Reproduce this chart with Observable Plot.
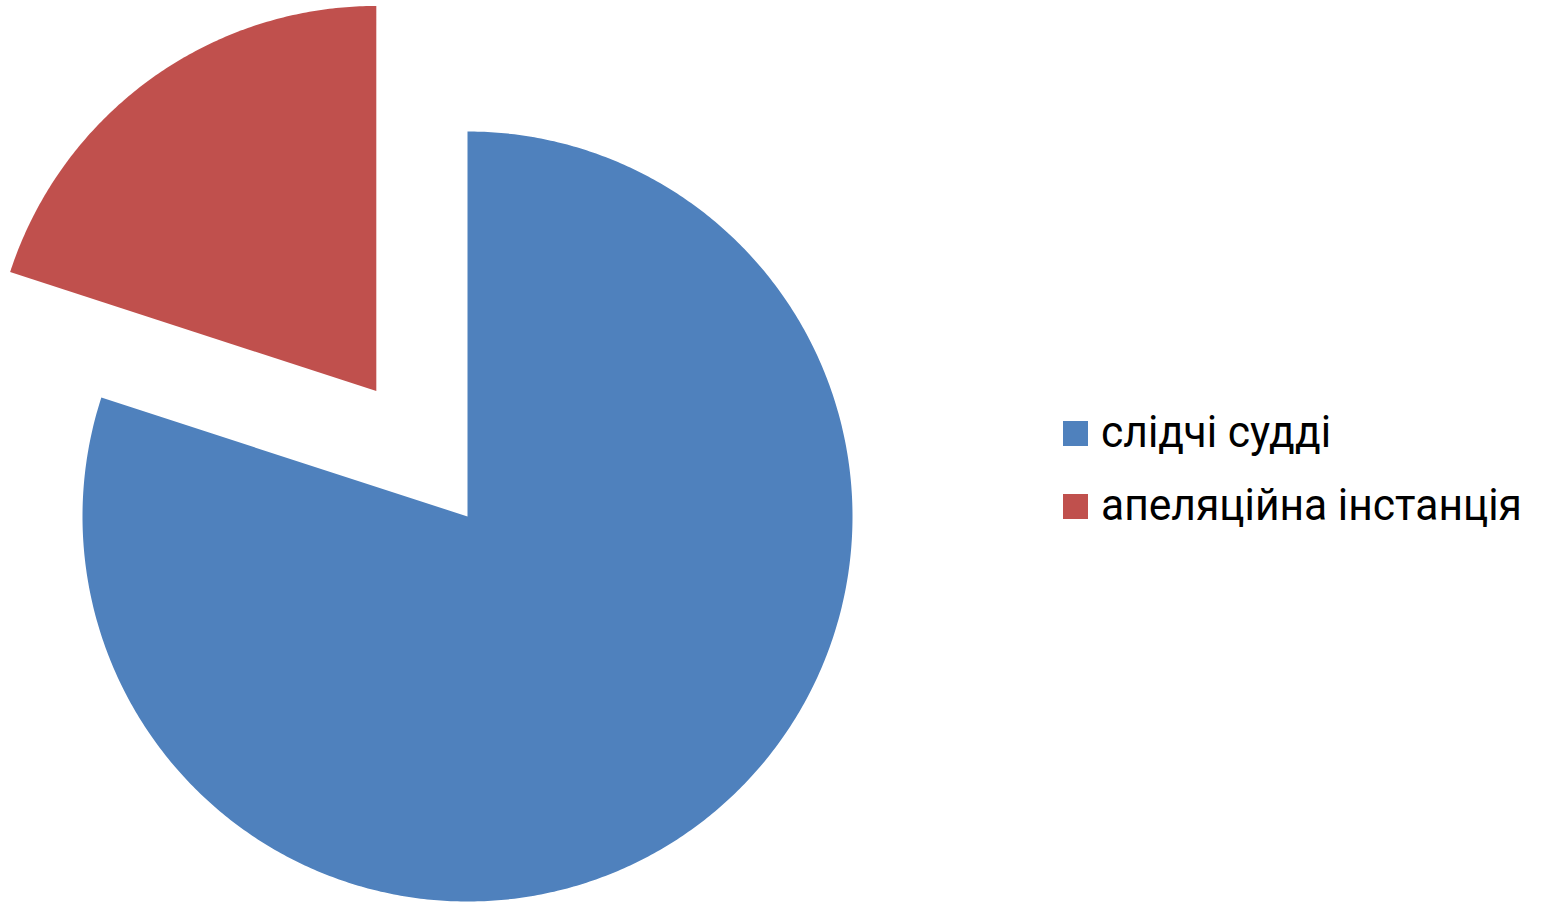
<!DOCTYPE html>
<html>
<head>
<meta charset="utf-8">
<script src="https://cdn.jsdelivr.net/npm/d3@7"></script>
<script src="https://cdn.jsdelivr.net/npm/@observablehq/plot@0.6"></script>
<style>
  html, body { margin: 0; padding: 0; background: #fff; }
  #wrap { position: relative; width: 1543px; height: 903px; overflow: hidden; }
  #wrap > svg { position: absolute; left: 0; top: 0; }
</style>
</head>
<body>
<div id="wrap"></div>
<script>
const categories = ["слідчі судді", "апеляційна інстанція"];
const values = [80, 20];
const colors = ["#4F81BD", "#C0504D"];
const exploded = [false, true];

const explodeFrac = 0.403;
const data = categories.map((name, i) => ({name, value: values[i], explode: exploded[i]}));
const arcs = d3.pie().sort(null).value(d => d.value)(data);

const pts = [];
for (const a of arcs) {
  const mid = (a.startAngle + a.endAngle) / 2;
  const ox = a.data.explode ? explodeFrac * Math.sin(mid) : 0;
  const oy = a.data.explode ? explodeFrac * Math.cos(mid) : 0;
  pts.push({name: a.data.name, x: ox, y: oy});
  const n = Math.max(2, Math.ceil((a.endAngle - a.startAngle) / (Math.PI / 360)));
  for (let k = 0; k <= n; k++) {
    const t = a.startAngle + (a.endAngle - a.startAngle) * k / n;
    pts.push({name: a.data.name, x: ox + Math.sin(t), y: oy + Math.cos(t)});
  }
}

const chart = Plot.plot({
  width: 1543,
  height: 903,
  marginLeft: 82,
  marginRight: 691,
  marginTop: 131,
  marginBottom: 2,
  x: {domain: [-1, 1], axis: null},
  y: {domain: [-1, 1], axis: null},
  color: {domain: categories, range: colors},
  style: {background: "#fff", overflow: "visible"},
  marks: [
    Plot.line(pts, {x: "x", y: "y", z: "name", fill: "name", stroke: null, curve: "linear"})
  ]
});
const wrap = document.getElementById("wrap");
wrap.appendChild(chart);

// Legend (drawn as an SVG overlay to the right of the pie)
const ns = "http://www.w3.org/2000/svg";
const leg = document.createElementNS(ns, "svg");
leg.setAttribute("width", 1543);
leg.setAttribute("height", 903);
wrap.appendChild(leg);
const legX = 1063, legY = 421, rowGap = 73, sw = 25, textX = 1101, fontSize = 44;
const texts = [];
categories.forEach((c, i) => {
  const r = document.createElementNS(ns, "rect");
  r.setAttribute("x", legX); r.setAttribute("y", legY + i * rowGap);
  r.setAttribute("width", sw); r.setAttribute("height", sw);
  r.setAttribute("fill", colors[i]);
  leg.appendChild(r);
  const t = document.createElementNS(ns, "text");
  t.setAttribute("x", textX);
  t.setAttribute("y", legY + i * rowGap + 26.5);
  t.setAttribute("font-family", "Roboto, sans-serif");
  t.setAttribute("font-size", fontSize);
  t.setAttribute("fill", "#000");
  t.textContent = c;
  leg.appendChild(t);
  texts.push(t);
});
function fit() {
  const w = texts[1].getComputedTextLength();
  const s = 421 / w;
  texts.forEach(t => {
    const x = +t.getAttribute("x");
    t.setAttribute("transform", `translate(${x},0) scale(${s},1) translate(${-x},0)`);
  });
}
fit();
if (document.fonts && document.fonts.ready) document.fonts.ready.then(fit);
</script>
</body>
</html>
